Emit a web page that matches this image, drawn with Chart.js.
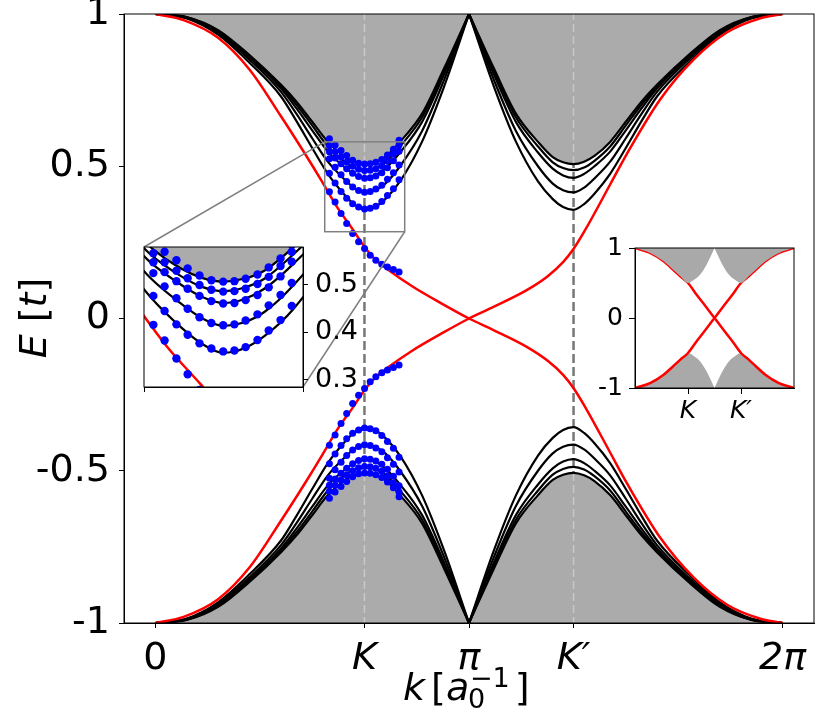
<!DOCTYPE html>
<html>
<head>
<meta charset="utf-8">
<script src="https://cdn.jsdelivr.net/npm/chart.js@4.4.0/dist/chart.umd.min.js"></script>
<style>
    html, body { margin: 0; padding: 0; background: #fff; }
    #wrap { position: relative; width: 830px; height: 712px; }
    canvas { position: absolute; }
</style>
</head>
<body>
<div id="wrap">
    <canvas id="main" width="830" height="712" style="left:0;top:0"></canvas>
    <canvas id="zoomInset" width="230" height="165" style="left:134px;top:237px"></canvas>
    <canvas id="bandInset" width="215" height="185" style="left:590px;top:235px"></canvas>
</div>
<script>
const FONT = 'DejaVu Sans';

// k is in units of pi everywhere
const kTicks = [0, 2 / 3, 1, 4 / 3, 2];
const kTickLabels = ['0', 'K', 'π', 'K′', '2π'];
const eTicks = [-1, -0.5, 0, 0.5, 1];
const eTickLabels = ['-1', '-0.5', '0', '0.5', '1'];

// sample points on [0, pi], the [pi, 2pi] half is the mirror image
const kHalf = [0, 0.1, 0.2, 0.3, 0.4, 0.45, 0.5, 0.55, 0.6, 0.633, 0.667, 0.7, 0.733, 0.78, 0.85, 0.92, 1];
const sub1 = [1, 0.985, 0.932, 0.84, 0.73, 0.648, 0.56, 0.475, 0.41, 0.376, 0.357, 0.366, 0.392, 0.45, 0.58, 0.76, 1];
const sub2 = [1, 0.987, 0.937, 0.85, 0.745, 0.672, 0.592, 0.515, 0.46, 0.43, 0.414, 0.421, 0.443, 0.5, 0.615, 0.782, 1];
const sub3 = [1, 0.988, 0.941, 0.857, 0.756, 0.69, 0.618, 0.548, 0.5, 0.475, 0.462, 0.47, 0.492, 0.545, 0.645, 0.8, 1];
const sub4 = [1, 0.989, 0.944, 0.861, 0.762, 0.702, 0.634, 0.565, 0.518, 0.496, 0.487, 0.494, 0.513, 0.565, 0.66, 0.81, 1];
const sub5 = [1, 0.99, 0.947, 0.865, 0.768, 0.712, 0.646, 0.58, 0.534, 0.515, 0.507, 0.513, 0.53, 0.58, 0.672, 0.82, 1];

// edge state, upper branch left of pi and right of pi
const kRedL = [0, 0.09, 0.2, 0.3, 0.4, 0.48, 0.53, 0.58, 0.63, 0.667, 0.7, 0.74, 0.82, 0.92, 1];
const redL = [1, 0.98, 0.922, 0.818, 0.665, 0.536, 0.452, 0.365, 0.292, 0.235, 0.195, 0.162, 0.105, 0.045, 0];
const kRedR = [1, 1.078, 1.184, 1.25, 1.3, 1.333, 1.37, 1.45, 1.503, 1.61, 1.716, 1.823, 1.929, 2];
const redR = [0, 0.038, 0.093, 0.138, 0.185, 0.228, 0.29, 0.44, 0.54, 0.72, 0.85, 0.94, 0.986, 1];

// low energy model points around K
const dotK = [0.555, 0.573, 0.592, 0.61, 0.629, 0.648, 0.667, 0.685, 0.703, 0.722, 0.74, 0.759, 0.777];
const dotRed = [0.416, 0.383, 0.345, 0.312, 0.279, 0.252, 0.23, 0.208, 0.191, 0.178, 0.169, 0.161, 0.153];
const dotSub1 = [0.477, 0.445, 0.417, 0.395, 0.377, 0.366, 0.36, 0.362, 0.369, 0.384, 0.404, 0.426, 0.456];
const dotSub2 = [0.525, 0.497, 0.472, 0.45, 0.432, 0.42, 0.415, 0.417, 0.425, 0.438, 0.457, 0.479, 0.504];
const dotSub3 = [0.548, 0.527, 0.508, 0.492, 0.477, 0.466, 0.461, 0.462, 0.468, 0.479, 0.495, 0.518, 0.549];
const dotSub4 = [0.567, 0.548, 0.53, 0.514, 0.5, 0.49, 0.486, 0.487, 0.492, 0.502, 0.517, 0.54, 0.57];
const dotSub5 = [0.59, 0.57, 0.552, 0.535, 0.52, 0.51, 0.507, 0.508, 0.513, 0.522, 0.537, 0.556, 0.585];

// zoom window
const zoomK = [0.54, 0.795];
const zoomE = [0.285, 0.58];
const zoomTicks = [0.3, 0.4, 0.5];

// small inset: band edge on [0, pi] and the crossing edge states
const bandK = [0, 0.19, 0.36, 0.48, 0.57, 0.667, 0.73, 0.82, 0.9, 0.96, 1];
const bandEdge = [1, 0.93, 0.81, 0.69, 0.595, 0.5, 0.535, 0.62, 0.76, 0.9, 1];
const crossK = [0.667, 0.78, 0.89, 1, 1.11, 1.22, 1.333];
const crossE = [0.5, 0.325, 0.165, 0, -0.165, -0.325, -0.5];
const bandTicksK = [2 / 3, 4 / 3];
const bandTickLabels = ['K', 'K′'];
const bandTicksE = [-1, 0, 1];

// layout of the zoom inset in page pixels
const ZOOM_BOX = { left: 144, top: 247, width: 159, height: 140 };

const GRAY = '#ababab';
const RED = '#ff0000';
const BLUE = '#0000ff';
const subs = [sub1, sub2, sub3, sub4, sub5];
const dotSubs = [dotSub1, dotSub2, dotSub3, dotSub4, dotSub5];

function pts(ks, es, sign, mirror) {
    const out = ks.map((k, i) => ({ x: mirror ? 2 - k : k, y: sign * es[i] }));
    return mirror ? out.reverse() : out;
}

function curve(data, color, width, order, extra) {
    return Object.assign({
        data: data,
        borderColor: color,
        backgroundColor: color,
        borderWidth: width,
        pointRadius: 0,
        fill: false,
        cubicInterpolationMode: 'monotone',
        clip: 0,
        order: order
    }, extra || {});
}

function dots(es, sign, r) {
    return {
        data: dotK.map((k, i) => ({ x: k, y: sign * es[i] })),
        showLine: false,
        pointRadius: r,
        pointBackgroundColor: BLUE,
        pointBorderWidth: 0,
        borderColor: BLUE,
        clip: 0,
        order: 1
    };
}

function redCurve(sign) {
    const left = pts(kRedL, redL, sign, false);
    const right = kRedR.slice(1).map((k, i) => ({ x: k, y: -sign * redR[i + 1] }));
    return left.concat(right);
}

function linAxis(pos, min, max, ticks, labels, thick, tickLen, pad, font) {
    return {
        type: 'linear',
        position: pos,
        min: min,
        max: max,
        afterBuildTicks: a => { a.ticks = ticks.map(v => ({ value: v })); },
        afterFit: a => {
            if (a.isHorizontal()) a.height = thick; else a.width = thick;
            // keep the plot area where it is put, labels may overhang
            a.paddingTop = a.paddingBottom = a.paddingLeft = a.paddingRight = 0;
        },
        grid: { drawOnChartArea: false, drawTicks: true, tickLength: tickLen, tickColor: '#000', tickWidth: 1 },
        border: { display: true, color: '#000', width: 1 },
        ticks: {
            autoSkip: false,
            maxRotation: 0,
            padding: pad,
            color: '#000',
            font: font,
            callback: (v, i) => labels[i]
        }
    };
}

const frame = {
    id: 'frame',
    afterDraw(chart) {
        const a = chart.chartArea;
        const ctx = chart.ctx;
        ctx.save();
        ctx.strokeStyle = '#000';
        ctx.lineWidth = 1;
        ctx.strokeRect(a.left, a.top, a.right - a.left, a.bottom - a.top);
        ctx.restore();
    }
};

const areaBg = {
    id: 'areaBg',
    beforeDraw(chart) {
        const a = chart.chartArea;
        chart.ctx.save();
        chart.ctx.fillStyle = '#fff';
        chart.ctx.fillRect(a.left, a.top, a.right - a.left, a.bottom - a.top);
        chart.ctx.restore();
    }
};

const pageBg = {
    id: 'pageBg',
    beforeDraw(chart) {
        chart.ctx.save();
        chart.ctx.fillStyle = '#fff';
        chart.ctx.fillRect(0, 0, chart.width, chart.height);
        chart.ctx.restore();
    }
};

// grey rectangle round the zoomed window plus the two connector lines
const zoomMarker = {
    id: 'zoomMarker',
    afterDatasetsDraw(chart) {
        const { ctx, scales: { x, y } } = chart;
        const x0 = x.getPixelForValue(zoomK[0]);
        const x1 = x.getPixelForValue(zoomK[1]);
        const y0 = y.getPixelForValue(zoomE[1]);
        const y1 = y.getPixelForValue(zoomE[0]);
        ctx.save();
        ctx.strokeStyle = '#808080';
        ctx.lineWidth = 1.5;
        ctx.strokeRect(x0, y0, x1 - x0, y1 - y0);
        ctx.beginPath();
        ctx.moveTo(x0, y0);
        ctx.lineTo(ZOOM_BOX.left, ZOOM_BOX.top);
        ctx.moveTo(x1, y1);
        ctx.lineTo(ZOOM_BOX.left + ZOOM_BOX.width, ZOOM_BOX.top + ZOOM_BOX.height);
        ctx.stroke();
        ctx.restore();
    }
};

const axisTitles = {
    id: 'axisTitles',
    afterDraw(chart) {
        const ctx = chart.ctx;
        ctx.save();
        ctx.fillStyle = '#000';
        ctx.textBaseline = 'alphabetic';
        ctx.textAlign = 'left';
        const big = '38px "' + FONT + '"';
        const bigIt = 'italic 38px "' + FONT + '"';
        const small = '27px "' + FONT + '"';

        // k [a_0^-1]
        ctx.font = bigIt;
        ctx.fillText('k', 403, 700);
        ctx.font = big;
        ctx.fillText('[', 431, 700);
        ctx.font = bigIt;
        ctx.fillText('a', 446, 700);
        ctx.font = small;
        ctx.fillText('0', 468, 708);
        ctx.fillText('−1', 470, 687);
        const supEnd = 470 + ctx.measureText('−1').width;
        ctx.font = big;
        ctx.fillText(']', supEnd + 5, 700);

        // vertical title E [t]
        const parts = [
            { t: 'E', f: bigIt }, { t: ' [', f: big }, { t: 't', f: bigIt }, { t: ']', f: big }
        ];
        let total = 0;
        parts.forEach(p => { ctx.font = p.f; p.w = ctx.measureText(p.t).width; total += p.w; });
        ctx.translate(46, 318);
        ctx.rotate(-Math.PI / 2);
        let cx = -total / 2;
        parts.forEach(p => { ctx.font = p.f; ctx.fillText(p.t, cx, 0); cx += p.w; });
        ctx.restore();
    }
};

// ---------- main plot ----------
const mainSets = [];
[1, -1].forEach(sign => {
    [false, true].forEach(m => {
        mainSets.push(curve(pts(kHalf, sub5, sign, m), GRAY, 0, 20,
            { fill: sign > 0 ? 'end' : 'start', backgroundColor: GRAY }));
        subs.forEach(s => mainSets.push(curve(pts(kHalf, s, sign, m), '#000', 2.2, 5)));
    });
    [kTicks[1], kTicks[3]].forEach(k => {
        mainSets.push(curve([{ x: k, y: sign * sub5[10] }, { x: k, y: sign }], '#c9c9c9', 1.5, 15,
            { borderDash: [8, 4], cubicInterpolationMode: 'default' }));
    });
    mainSets.push(curve(redCurve(sign), RED, 2.5, 3));
    mainSets.push(dots(dotRed, sign, 3.5));
    dotSubs.forEach(d => mainSets.push(dots(d, sign, 3.5)));
});
[kTicks[1], kTicks[3]].forEach(k => {
    mainSets.push(curve([{ x: k, y: eTicks[0] }, { x: k, y: eTicks[4] }], '#777777', 2.5, 25,
        { borderDash: [9, 4], cubicInterpolationMode: 'default' }));
});

const bigFont = { family: FONT, size: 38 };
new Chart(document.getElementById('main'), {
    type: 'line',
    data: { datasets: mainSets },
    options: {
        responsive: false,
        animation: false,
        devicePixelRatio: 1,
        events: [],
        layout: { autoPadding: false, padding: { left: 0, top: 14, right: 16, bottom: 0 } },
        plugins: { legend: { display: false }, tooltip: { enabled: false } },
        scales: {
            x: linAxis('bottom', -0.1, 2.1, kTicks, kTickLabels, 89, 5, 8,
                ctx => ({ family: FONT, size: 38, style: ctx.index === 0 ? 'normal' : 'italic' })),
            y: linAxis('left', -1, 1, eTicks, eTickLabels, 124, 5, 9, bigFont)
        }
    },
    plugins: [pageBg, zoomMarker, frame, axisTitles]
});

// ---------- zoomed inset ----------
const zoomSets = [
    curve(pts(kHalf, sub5, 1, false), GRAY, 0, 20, { fill: 'end', backgroundColor: GRAY }),
    curve(redCurve(1), RED, 2.5, 3),
    dots(dotRed, 1, 4.2)
];
subs.forEach(s => zoomSets.push(curve(pts(kHalf, s, 1, false), '#000', 2.2, 5)));
dotSubs.forEach(d => zoomSets.push(dots(d, 1, 4.2)));

const insetFont = { family: FONT, size: 27 };
new Chart(document.getElementById('zoomInset'), {
    type: 'line',
    data: { datasets: zoomSets },
    options: {
        responsive: false,
        animation: false,
        devicePixelRatio: 1,
        events: [],
        layout: { autoPadding: false, padding: { left: 10, top: 10, right: 0, bottom: 0 } },
        plugins: { legend: { display: false }, tooltip: { enabled: false } },
        scales: {
            x: linAxis('bottom', zoomK[0], zoomK[1], zoomK, ['', ''], 15, 5, 0, insetFont),
            y: linAxis('right', zoomE[0], zoomE[1], zoomTicks, zoomTicks.map(v => v.toFixed(1)), 61, 5, 7, insetFont)
        }
    },
    plugins: [areaBg, frame]
});

// ---------- band inset ----------
function bandRed(sign) {
    const left = bandK.slice(0, 6).map((k, i) => ({ x: k, y: -sign * bandEdge[i] }));
    const mid = crossK.slice(1).map((k, i) => ({ x: k, y: -sign * crossE[i + 1] }));
    const right = [4, 3, 2, 1, 0].map(i => ({ x: 2 - bandK[i], y: sign * bandEdge[i] }));
    return left.concat(mid, right);
}
const bandSets = [];
[false, true].forEach(m => {
    bandSets.push(curve(pts(bandK, bandEdge, 1, m), '#a9a9a9', 0, 5, { fill: 'end', backgroundColor: '#a9a9a9' }));
    bandSets.push(curve(pts(bandK, bandEdge, -1, m), '#a9a9a9', 0, 20, { fill: 'start', backgroundColor: '#a9a9a9' }));
});
bandSets.push(curve(bandRed(1), RED, 2.5, 10));
bandSets.push(curve(bandRed(-1), RED, 2.5, 10));

new Chart(document.getElementById('bandInset'), {
    type: 'line',
    data: { datasets: bandSets },
    options: {
        responsive: false,
        animation: false,
        devicePixelRatio: 1,
        events: [],
        layout: { autoPadding: false, padding: { left: 0, top: 13, right: 11, bottom: 0 } },
        plugins: { legend: { display: false }, tooltip: { enabled: false } },
        scales: {
            x: linAxis('bottom', 0, 2, bandTicksK, bandTickLabels, 32, 6, 2,
                { family: FONT, size: 25, style: 'italic' }),
            y: linAxis('left', -1, 1, bandTicksE, ['-1', '0', '1'], 45, 6, 6, { family: FONT, size: 25 })
        }
    },
    plugins: [areaBg, frame]
});
</script>
</body>
</html>
